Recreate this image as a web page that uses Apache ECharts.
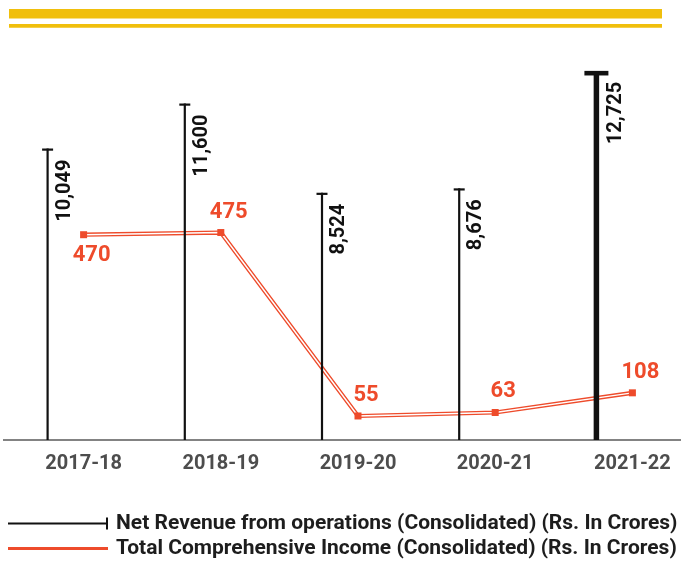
<!DOCTYPE html>
<html>
<head>
<meta charset="utf-8">
<script src="https://cdn.jsdelivr.net/npm/echarts@6/dist/echarts.min.js"></script>
<style>
  html, body { margin: 0; padding: 0; background: #fff; }
  #chart { width: 681px; height: 570px; }
</style>
</head>
<body>
<div id="chart"></div>
<script>
// Fiscal years and the two consolidated series (Rs. in crores)
const years = ['2017-18', '2018-19', '2019-20', '2020-21', '2021-22'];
const netRevenue = [10049, 11600, 8524, 8676, 12725];
const totalIncome = [470, 475, 55, 63, 108];
const incomeLabelSide = ['bottom', 'top', 'top', 'top', 'top'];

const revenueName = 'Net Revenue from operations (Consolidated) (Rs. In Crores)';
const incomeName = 'Total Comprehensive Income (Consolidated) (Rs. In Crores)';

const RED = '#ee4b2b';
const INK = '#111111';
const YELLOW = '#f0bf0c';
const FONT = 'Roboto';
const BAR_SHIFT = -36;          // revenue stems sit left of each category centre
const fmt = v => v.toLocaleString('en-US');

const chart = echarts.init(document.getElementById('chart'));

// Revenue stems: a vertical rule with a cap and a rotated value label
function renderStem(params, api) {
  const i = params.dataIndex;
  const value = api.value(1);
  const base = api.coord([i, 0]);
  const top = api.coord([i, value]);
  const latest = i === netRevenue.length - 1;
  const x = base[0] + BAR_SHIFT;
  const w = latest ? 5.5 : 2.2;
  const capW = latest ? 24 : 11;
  const capH = latest ? 4.6 : 2.2;
  return {
    type: 'group',
    children: [
      { type: 'rect', shape: { x: x - w / 2, y: top[1], width: w, height: base[1] - top[1] },
        style: { fill: INK } },
      { type: 'rect', shape: { x: x - capW / 2, y: top[1], width: capW, height: capH },
        style: { fill: INK } },
      { type: 'text', x: x + (latest ? 20 : 17), y: top[1] + 11, rotation: Math.PI / 2,
        style: { text: fmt(value), fill: INK, font: 'bold 20px ' + FONT,
                 align: 'right', verticalAlign: 'middle' } }
    ]
  };
}

const legendText = { color: '#1d1d1d', fontFamily: FONT, fontWeight: 'bold', fontSize: 21, padding: [0, 0, 0, 3] };

chart.setOption({
  animation: false,
  // the plot band runs slightly past the right edge of the canvas
  grid: { left: 15, right: -20, top: 60, bottom: 130, outerBoundsMode: 'none', containLabel: false },
  xAxis: {
    type: 'category',
    data: years,
    axisLine: { show: false },
    axisTick: { show: false },
    axisLabel: { color: '#4d4d4d', fontFamily: FONT, fontWeight: 'bold', fontSize: 20, margin: 14 }
  },
  yAxis: [
    { type: 'value', min: 0, max: 13100, show: false },
    { type: 'value', min: 0, max: 870, show: false }
  ],
  legend: [
    {
      data: [{ name: revenueName, icon: 'path://M0,5H100V7H0ZM98,0H100V12H98Z' }],
      left: 3, top: 508, itemWidth: 100, itemHeight: 12,
      selectedMode: false, textStyle: legendText
    },
    {
      data: [{ name: incomeName, icon: 'rect' }],
      left: 3, top: 533, itemWidth: 100, itemHeight: 3,
      lineStyle: { width: 2.5 },
      selectedMode: false, textStyle: legendText
    }
  ],
  graphic: [
    { type: 'rect', shape: { x: 9, y: 9, width: 653, height: 9.5 }, style: { fill: YELLOW } },
    { type: 'rect', shape: { x: 9, y: 24, width: 653, height: 3.7 }, style: { fill: YELLOW } },
    { type: 'line', shape: { x1: 3, y1: 440, x2: 681, y2: 440 }, style: { stroke: '#5a5a5a', lineWidth: 1.5 } }
  ],
  series: [
    {
      name: incomeName,
      type: 'line',
      yAxisIndex: 1,
      data: totalIncome,
      symbol: 'none',
      lineStyle: { color: RED, width: 4.2 },
      itemStyle: { color: RED },
      z: 2
    },
    {
      name: 'income-core',
      type: 'line',
      yAxisIndex: 1,
      data: totalIncome.map((v, i) => ({ value: v, label: { position: incomeLabelSide[i] } })),
      symbol: 'rect',
      symbolSize: 7,
      lineStyle: { color: '#ffffff', width: 1.4 },
      itemStyle: { color: RED },
      label: { show: true, color: RED, fontFamily: FONT, fontWeight: 'bold', fontSize: 22,
               distance: 6, offset: [8, 0] },
      z: 3
    },
    {
      name: revenueName,
      type: 'custom',
      data: netRevenue.map((v, i) => [i, v]),
      encode: { x: 0, y: 1 },
      itemStyle: { color: INK },
      renderItem: renderStem,
      z: 5
    }
  ]
});
</script>
</body>
</html>
